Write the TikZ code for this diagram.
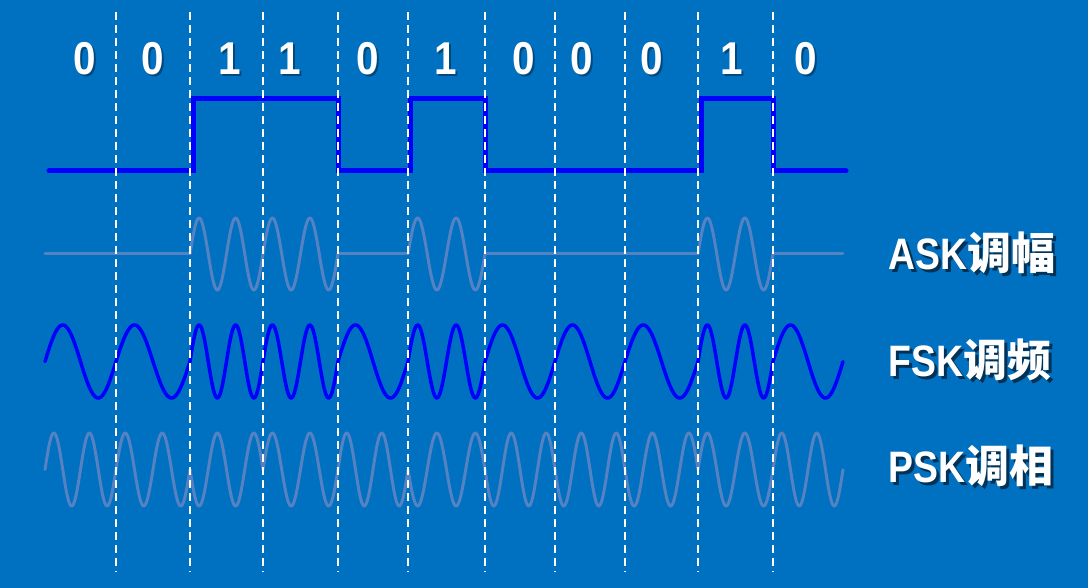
\documentclass[tikz,border=0pt]{standalone}
\usepackage{fontspec}
\usepackage{graphicx}
\setmainfont{Liberation Sans}
\newfontfamily\cjk{Noto Sans CJK SC}
\definecolor{bg}{RGB}{0,112,192}
\definecolor{wave}{RGB}{84,130,195}
\definecolor{sig}{RGB}{0,0,255}
\colorlet{shadowc}{bg!45!black}
\colorlet{glowc}{bg!65!black}
% text with a drop shadow, in one box
\newcommand{\shadowtext}[3]{\makebox[0pt][l]{\hspace{#1}\raisebox{-#1}{\color{#2}#3}}#3}
\begin{document}
\begin{tikzpicture}[x=1pt,y=-1pt,
  gridline/.style={white, line width=1.7pt, dash pattern=on 8pt off 5pt},
  dig/.style={sig, line width=5pt, line cap=round, line join=miter},
  ask/.style={wave, line width=3pt, line cap=round, line join=round},
  fsk/.style={sig, line width=3.5pt, line cap=round, line join=round},
  bitlbl/.style={font=\fontsize{46}{50}\selectfont\bfseries, text=white, inner sep=0pt},
  lbl/.style={font=\fontsize{44}{48}\selectfont\bfseries, text=white, inner sep=0pt, anchor=west}
]
\useasboundingbox (0,0) rectangle (1088,588);
\fill[bg] (0,0) rectangle (1088,588);

% digital signal
\draw[dig] (49,171) -- (193,171) -- (193,99) -- (338,99) -- (338,171) -- (410,171) -- (410,99) -- (485,99) -- (485,171) -- (701,171) -- (701,99) -- (773,99) -- (773,171) -- (846,171);

% modulated waves
\foreach \a/\b/\bit/\ph in {45/116/0/1,116/190/0/1,190/263/1/-1,263/338/1/1,338/408/0/1,408/485/1/-1,485/555/0/-1,555/625/0/-1,625/698/0/-1,698/773/1/1,773/843/0/1}{
  \draw[ask] plot[domain=0:1,samples=80,variable=\t] ({\a+\t*(\b-\a)},{254-36*\bit*sin(720*\t)});
  \draw[fsk] plot[domain=0:1,samples=80,variable=\t] ({\a+\t*(\b-\a)},{361.5-36.5*sin(360*(1+\bit)*\t)});
  \draw[ask] plot[domain=0:1,samples=80,variable=\t] ({\a+\t*(\b-\a)},{469.5-36.5*(\ph)*sin(720*\t)});
}

% dashed bit boundaries
\foreach \x [count=\i] in {116,190,263,338,408,485,555,625,698,773}{
  \coordinate (gt\i) at (\x,12);
  \coordinate (gb\i) at (\x,572);
  \draw[gridline] (gt\i) -- (gb\i);
}

% bit labels
\foreach \x/\d [count=\i] in {85/0,153/0,230/1,290/1,368/0,446/1,524/0,582/0,652/0,732/1,806/0}{
  \node[bitlbl] (bit\i) at (\x,60) {\scalebox{0.88}[1]{\shadowtext{2pt}{glowc}{\d}}};
}

% right-hand labels
\node[lbl] (ask) at (888,254) {\shadowtext{3pt}{shadowc}{\scalebox{0.85}[1]{ASK}{\cjk\bfseries 调幅}}};
\node[lbl] (fsk) at (888,361) {\shadowtext{3pt}{shadowc}{\scalebox{0.85}[1]{FSK}{\cjk\bfseries 调频}}};
\node[lbl] (psk) at (888,467) {\shadowtext{3pt}{shadowc}{\scalebox{0.85}[1]{PSK}{\cjk\bfseries 调相}}};
\end{tikzpicture}
\end{document}
